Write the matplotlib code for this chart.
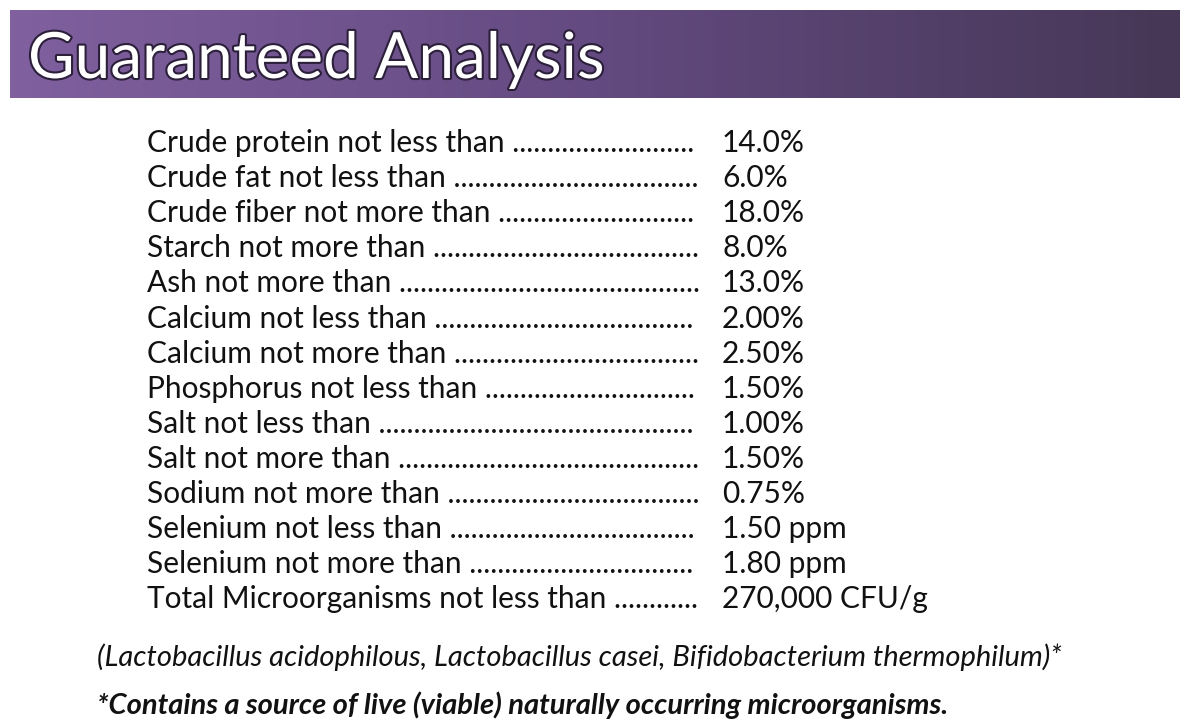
import numpy as np
import matplotlib.pyplot as plt
import matplotlib.patheffects as pe
from matplotlib.colors import LinearSegmentedColormap

labels = ['Crude protein not less than', 'Crude fat not less than',
          'Crude fiber not more than', 'Starch not more than',
          'Ash not more than', 'Calcium not less than',
          'Calcium not more than', 'Phosphorus not less than',
          'Salt not less than', 'Salt not more than',
          'Sodium not more than', 'Selenium not less than',
          'Selenium not more than', 'Total Microorganisms not less than']
values = ['14.0%', '6.0%', '18.0%', '8.0%', '13.0%', '2.00%', '2.50%',
          '1.50%', '1.00%', '1.50%', '0.75%', '1.50 ppm', '1.80 ppm',
          '270,000 CFU/g']
title = 'Guaranteed Analysis'
note1 = '(Lactobacillus acidophilous, Lactobacillus casei, Bifidobacterium thermophilum)*'
note2 = '*Contains a source of live (viable) naturally occurring microorganisms.'

W, H = 1184, 725
fig = plt.figure(figsize=(W / 100, H / 100), dpi=100)
ax = fig.add_axes([0, 0, 1, 1])

# header bar with horizontal gradient
cmap = LinearSegmentedColormap.from_list('hdr', ['#80609f', '#634a80', '#463756'])
grad = np.linspace(0, 1, 256).reshape(1, -1)
ax.imshow(grad, cmap=cmap, aspect='auto', extent=[10, 1180, 98, 10], zorder=1)
ax.set_xlim(0, W)
ax.set_ylim(H, 0)
ax.axis('off')
ax.text(28, 60, title, color='white', fontsize=46, family='Lato', va='center',
        zorder=3, path_effects=[pe.withStroke(linewidth=3, foreground='#2b1f3a')])

font = dict(fontsize=21.5, family='Lato', color='#111111', va='center')
x_lab, x_dot_end, x_val = 147, 700, 722
row_h = 35.1
y0 = 143

fig.canvas.draw()
r = fig.canvas.get_renderer()
inv = ax.transData.inverted()
for i, (lab, val) in enumerate(zip(labels, values)):
    y = y0 + i * row_h
    t = ax.text(x_lab, y, lab + ' ', **font)
    # fill with dots up to the value column
    s = ' '
    while True:
        t.set_text(lab + s + '.')
        bb = t.get_window_extent(r)
        xe = inv.transform((bb.x1, bb.y0))[0]
        if xe > x_dot_end:
            break
        s += '.'
    t.set_text(lab + s)
    ax.text(x_val, y, val, **font)

ax.text(97, 657, note1, fontsize=21, family='Lato', style='italic',
        color='#111111', va='center')
ax.text(97, 705, note2, fontsize=21, family='Lato', style='italic',
        weight='bold', color='#111111', va='center')

fig.savefig('out.png', dpi=100)
